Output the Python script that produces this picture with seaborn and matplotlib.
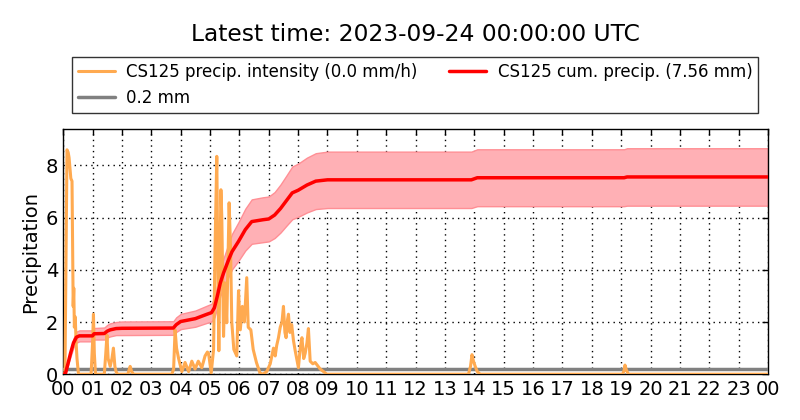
"""
plot.py
Cumulative precipitation and precipitation intensity for station CS125,
last 24 hours up to 2023-09-24 00:00 UTC.
"""

import numpy as np
import pandas as pd
import matplotlib
matplotlib.use("Agg")
import matplotlib.pyplot as plt
import seaborn as sns

# --- data (hours since 00 UTC) ---
intensity_hours = [
    0.0, 0.06, 0.1, 0.13, 0.17, 0.2, 0.23, 0.26, 0.3, 0.32, 0.34, 0.36, 0.38,
    0.41, 0.44, 0.47, 0.52,
    0.95, 1.0, 1.03, 1.06, 1.1, 1.4, 1.45, 1.49, 1.53, 1.6, 1.66, 1.71, 1.76,
    1.8, 1.85, 2.2, 2.28, 2.33, 2.4, 3.7, 3.76, 3.81, 3.86, 3.93, 4.04, 4.15,
    4.27, 4.38, 4.49, 4.6, 4.72, 4.83, 4.91, 4.95, 5.04, 5.12, 5.17, 5.23,
    5.27, 5.3, 5.37, 5.4, 5.46, 5.51, 5.57, 5.65, 5.7, 5.74, 5.81, 5.91, 5.97,
    6.03, 6.1, 6.17, 6.25, 6.3, 6.39, 6.47, 6.58, 6.7, 6.8, 6.93, 7.05, 7.16,
    7.22, 7.27, 7.33, 7.39, 7.45, 7.5, 7.55, 7.59, 7.64, 7.67, 7.72, 7.78,
    7.84, 7.9, 8.01, 8.07, 8.13, 8.19, 8.24, 8.3, 8.35, 8.41, 8.5, 8.58, 8.75,
    8.98, 13.8, 13.87, 13.92, 13.97, 14.03, 14.1, 14.2,
    19.05, 19.1, 19.13, 19.18, 19.25, 24.0,
]
intensity_mmh = [
    0.0, 0.0, 5.0, 8.6, 8.5, 8.3, 7.9, 7.5, 7.4, 5.0, 2.6, 3.3, 1.8,
    2.2, 1.2, 0.6, 0.0,
    0.0, 1.2, 2.3, 0.8, 0.0, 0.0, 0.8, 1.5, 0.6, 0.3, 0.6, 1.0, 0.3,
    0.1, 0.0, 0.0, 0.3, 0.1, 0.0, 0.0, 0.2, 1.7, 1.0, 0.6, 0.1, 0.45,
    0.1, 0.5, 0.2, 0.5, 0.25, 0.7, 0.85, 0.8, 0.05, 0.94, 4.8, 8.35,
    3.5, 0.9, 7.07, 6.05, 1.45, 3.5, 1.97, 6.57, 4.77, 2.0, 0.95, 0.7, 3.2,
    1.7, 2.6, 2.0, 3.7, 1.8, 1.7, 0.95, 0.45, 0.05, 0.0, 0.1, 0.4, 1.0,
    0.7, 1.1, 1.4, 1.8, 2.0, 2.6, 1.6, 1.4, 2.1, 2.3, 1.6, 1.9,
    1.3, 0.9, 0.25, 1.0, 1.4, 0.6, 0.8, 1.2, 1.75, 0.5, 0.4, 0.45, 0.2,
    0.0, 0.0, 0.3, 0.75, 0.5, 0.3, 0.1, 0.0,
    0.0, 0.15, 0.35, 0.15, 0.0, 0.0,
]

cum_hours = [
    0.0, 0.07, 0.15, 0.25, 0.35, 0.45, 0.55, 1.0, 1.05, 1.4, 1.5, 1.6, 1.8,
    2.0, 3.75, 3.85, 4.0, 4.5, 4.9, 5.05, 5.15, 5.25, 5.35, 5.46, 5.63, 5.75,
    5.97, 6.2, 6.42, 6.8, 7.0, 7.2, 7.4, 7.6, 7.8, 8.0, 8.3, 8.6, 9.0, 13.9,
    14.1, 19.1, 19.2, 24.0,
]
cum_mm = [
    0.0, 0.0, 0.35, 0.8, 1.2, 1.42, 1.47, 1.47, 1.55, 1.56, 1.65, 1.7, 1.75,
    1.76, 1.77, 1.9, 2.02, 2.13, 2.3, 2.36, 2.55, 3.0, 3.5, 3.88, 4.38, 4.7,
    5.09, 5.54, 5.85, 5.92, 5.95, 6.1, 6.35, 6.65, 6.95, 7.05, 7.25, 7.4, 7.45,
    7.45, 7.53, 7.53, 7.56, 7.56,
]
cum_upper = [
    0.0, 0.0, 0.4, 0.92, 1.37, 1.63, 1.68, 1.68, 1.77, 1.79, 1.89, 1.95, 2.0,
    2.02, 2.03, 2.18, 2.31, 2.44, 2.63, 2.7, 2.92, 3.44, 4.0, 4.44, 5.0, 5.38,
    5.83, 6.34, 6.7, 6.78, 6.81, 6.98, 7.27, 7.61, 7.96, 8.07, 8.3, 8.47, 8.53,
    8.53, 8.62, 8.62, 8.66, 8.66,
]
cum_lower = [
    0.0, 0.0, 0.3, 0.68, 1.03, 1.21, 1.26, 1.26, 1.33, 1.33, 1.41, 1.45, 1.5,
    1.5, 1.51, 1.62, 1.73, 1.82, 1.97, 2.02, 2.18, 2.57, 3.0, 3.32, 3.74, 4.02,
    4.35, 4.74, 5.0, 5.06, 5.09, 5.22, 5.43, 5.69, 5.94, 6.03, 6.2, 6.33, 6.37,
    6.37, 6.44, 6.44, 6.46, 6.46,
]

threshold_hours = [0.0, 24.0]
threshold_mm = [0.2, 0.2]

hour_labels = [f"{h % 24:02d}" for h in range(25)]

title = "Latest time: 2023-09-24 00:00:00 UTC"
label_intensity = "CS125 precip. intensity (0.0 mm/h)"
label_cum = "CS125 cum. precip. (7.56 mm)"
label_threshold = "0.2 mm"


def main():
    sns.set_style("white", {
        "axes.edgecolor": "black",
        "text.color": "black",
        "axes.labelcolor": "black",
        "xtick.color": "black",
        "ytick.color": "black",
        "xtick.direction": "in",
        "ytick.direction": "in",
    })
    plt.rcParams["font.family"] = ["DejaVu Sans"]

    df_int = pd.DataFrame({"hour": intensity_hours, "value": intensity_mmh})
    df_cum = pd.DataFrame({"hour": cum_hours, "value": cum_mm,
                           "lo": cum_lower, "hi": cum_upper})
    df_thr = pd.DataFrame({"hour": threshold_hours, "value": threshold_mm})

    fig = plt.figure(figsize=(8, 4.2), dpi=100)
    ax = fig.add_axes([0.079, 0.109, 0.881, 0.584])

    ax.fill_between(df_cum["hour"], df_cum["lo"], df_cum["hi"],
                    facecolor="#ffb0b5", edgecolor="#ff8f95", linewidth=1, zorder=2)
    sns.lineplot(data=df_thr, x="hour", y="value", ax=ax, color="#808080",
                 linewidth=2.5, label=label_threshold, zorder=3)
    sns.lineplot(data=df_int, x="hour", y="value", ax=ax, color="#ffaa50",
                 linewidth=2.2, label=label_intensity, zorder=4)
    sns.lineplot(data=df_cum, x="hour", y="value", ax=ax, color="red",
                 linewidth=2.5, label=label_cum, zorder=5)

    ax.set_xlim(0, 24)
    ax.set_ylim(0, 9.4)
    ax.set_xticks(range(25))
    ax.set_xticklabels(hour_labels)
    ax.set_yticks([0, 2, 4, 6, 8])
    ax.tick_params(labelsize=14, length=4, width=1, color="black",
                   top=True, right=True, direction="in")
    ax.tick_params(axis="x", pad=4.5)
    ax.set_xlabel("")
    ax.set_ylabel("Precipitation", fontsize=14)
    ax.grid(True, color="black", linestyle=(0, (1, 3)), linewidth=1)
    for s in ax.spines.values():
        s.set_linewidth(1)
        s.set_color("black")

    handles, labels = ax.get_legend_handles_labels()
    order = [labels.index(label_intensity), labels.index(label_threshold),
             labels.index(label_cum)]
    ax.get_legend().remove()
    leg = fig.legend([handles[i] for i in order], [labels[i] for i in order],
                     ncol=2, loc="upper center", bbox_to_anchor=(0.519, 0.864),
                     fontsize=12, frameon=True, fancybox=False, edgecolor="black",
                     handlelength=2.2, columnspacing=1.9, borderpad=0.35,
                     labelspacing=0.5, handletextpad=0.7, borderaxespad=0)
    leg.get_frame().set_linewidth(1)

    # title centred over the axes, not the figure
    fig.text(0.519, 0.917, title, fontsize=16.8, ha="center", va="center")
    fig.savefig("out.png", dpi=100, facecolor="white")
    plt.close(fig)


if __name__ == "__main__":
    main()
